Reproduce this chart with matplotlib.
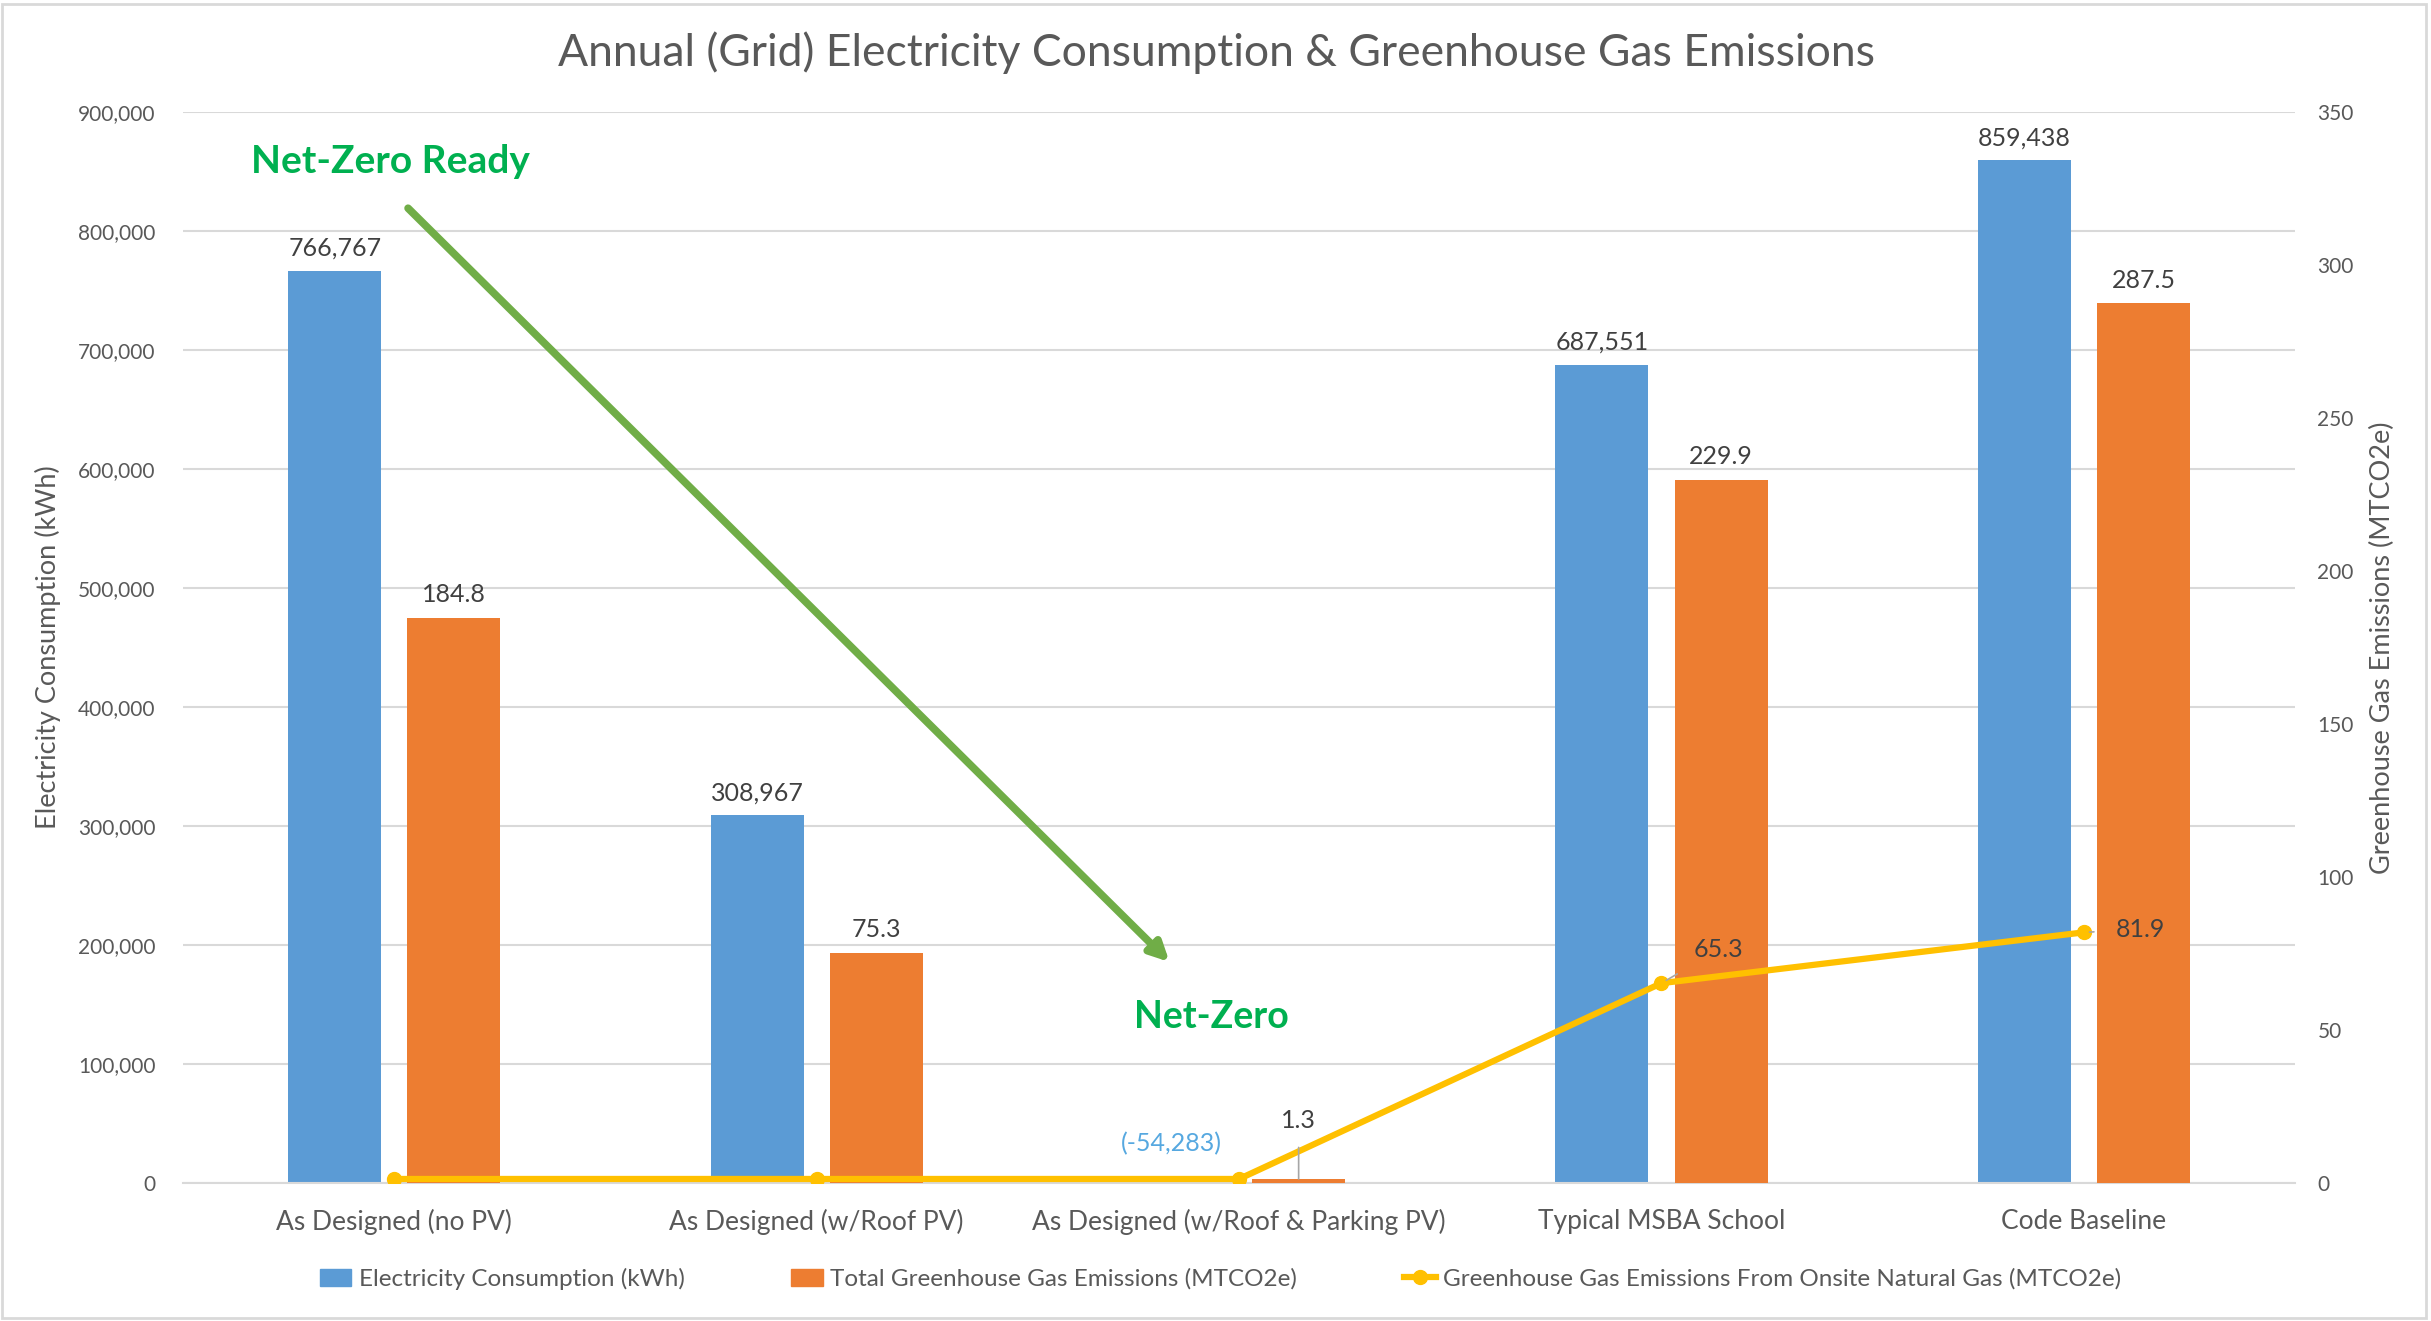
import matplotlib.pyplot as plt
from matplotlib.lines import Line2D
from matplotlib.patches import Patch, Rectangle
import numpy as np

categories = ["As Designed (no PV)", "As Designed (w/Roof PV)",
              "As Designed (w/Roof & Parking PV)", "Typical MSBA School", "Code Baseline"]
electricity_kwh = [766767, 308967, -54283, 687551, 859438]
total_ghg = [184.8, 75.3, 1.3, 229.9, 287.5]
onsite_gas_ghg = [1.3, 1.3, 1.3, 65.3, 81.9]

BLUE = "#5B9BD5"
ORANGE = "#ED7D31"
YELLOW = "#FFC000"
GREY_TXT = "#595959"
GRID = "#D9D9D9"

plt.rcParams["font.family"] = ["Lato", "DejaVu Sans"]

fig = plt.figure(figsize=(24.31, 13.21), dpi=100)
ax = fig.add_axes([0.0753, 0.1045, 0.8688, 0.8107])
ax2 = ax.twinx()

x = np.arange(len(categories))
w = 0.22
off = 0.141

ax.bar(x - off, electricity_kwh, w, color=BLUE, zorder=2)
ax2.bar(x + off, total_ghg, w, color=ORANGE, zorder=2)
ax2.plot(x, onsite_gas_ghg, color=YELLOW, lw=4.5, marker="o", ms=10, zorder=3)

ax.set_xlim(-0.5, 4.5)
ax.set_ylim(0, 900000)
ax2.set_ylim(0, 350)
ax.set_yticks(np.arange(0, 900001, 100000))
ax2.set_yticks(np.arange(0, 351, 50))
ax.set_yticklabels([f"{v:,}" for v in range(0, 900001, 100000)])
ax.grid(axis="y", color=GRID, lw=1.5, zorder=0)
ax.set_axisbelow(True)

for a in (ax, ax2):
    for s in a.spines.values():
        s.set_visible(False)
    a.tick_params(length=0, labelsize=15, colors=GREY_TXT)
ax.spines["bottom"].set_visible(True)
ax.spines["bottom"].set_color(GRID)
ax.spines["bottom"].set_linewidth(1.5)
ax.tick_params(axis="y", pad=20)
ax2.tick_params(axis="y", pad=16)

ax.set_xticks(x)
ax.set_xticklabels(categories, fontsize=19, color=GREY_TXT)
ax.tick_params(axis="x", pad=19)

ax.set_ylabel("Electricity Consumption (kWh)", fontsize=19.5, color=GREY_TXT, labelpad=12)
ax2.set_ylabel("Greenhouse Gas Emissions (MTCO2e)", fontsize=19.5, color=GREY_TXT, labelpad=12)

fig.text(0.5006, 0.96, "Annual (Grid) Electricity Consumption & Greenhouse Gas Emissions",
         ha="center", va="center", fontsize=32, color=GREY_TXT)

# data labels
for xi, v in zip(x, electricity_kwh):
    if v >= 0:
        ax.annotate(f"{v:,}", (xi - off, v), xytext=(0, 8), textcoords="offset points",
                    ha="center", va="bottom", fontsize=18, color="#404040")
    else:
        ax.annotate(f"({v:,})", (xi - off - 0.02, 0), xytext=(0, 28), textcoords="offset points",
                    ha="center", va="center", fontsize=18, color="#56A8E0")
for xi, v in zip(x, total_ghg):
    if v > 10:
        ax2.annotate(f"{v}", (xi + off, v), xytext=(0, 8), textcoords="offset points",
                     ha="center", va="bottom", fontsize=18, color="#404040")
    else:
        ax2.annotate(f"{v}", (xi + off, v), xytext=(0, 42), textcoords="offset points",
                     ha="center", va="center", fontsize=18, color="#404040",
                     arrowprops=dict(arrowstyle="-", color="#A6A6A6", lw=1.2,
                                     shrinkA=9, shrinkB=0))
for xi, v in zip(x, onsite_gas_ghg):
    if v > 10:
        dy = 24 if xi == 3 else 2
        ax2.annotate(f"{v}", (xi, v), xytext=(41, dy), textcoords="offset points",
                     ha="center", va="center", fontsize=18, color="#404040",
                     arrowprops=dict(arrowstyle="-", color="#A6A6A6", lw=1.2,
                                     shrinkA=14, shrinkB=4))

# Net-zero annotation
ax.annotate("", xy=(0.468, 0.2045), xytext=(0.1056, 0.912), xycoords="axes fraction",
            arrowprops=dict(arrowstyle="-|>,head_length=1.1,head_width=0.55",
                            color="#70AD47", lw=5.5), zorder=5)
ax.text(0.098, 0.954, "Net-Zero Ready", transform=ax.transAxes, ha="center", va="center",
        fontsize=28, fontweight="bold", color="#00B050")
ax.text(0.487, 0.155, "Net-Zero", transform=ax.transAxes, ha="center", va="center",
        fontsize=27, fontweight="bold", color="#00B050")

handles = [Patch(color=BLUE, label="Electricity Consumption (kWh)"),
           Patch(color=ORANGE, label="Total Greenhouse Gas Emissions (MTCO2e)"),
           Line2D([], [], color=YELLOW, lw=4.5, marker="o", ms=10,
                  label="Greenhouse Gas Emissions From Onsite Natural Gas (MTCO2e)")]
fig.legend(handles=handles, loc="center", bbox_to_anchor=(0.502, 0.032), ncol=3,
           frameon=False, fontsize=17.5, labelcolor=GREY_TXT, columnspacing=4.4,
           handlelength=1.3, handletextpad=0.3)

fig.patches.append(Rectangle((0.001, 0.002), 0.997, 0.995, transform=fig.transFigure,
                             fill=False, edgecolor=GRID, lw=2))

fig.savefig("out.png", dpi=100)
